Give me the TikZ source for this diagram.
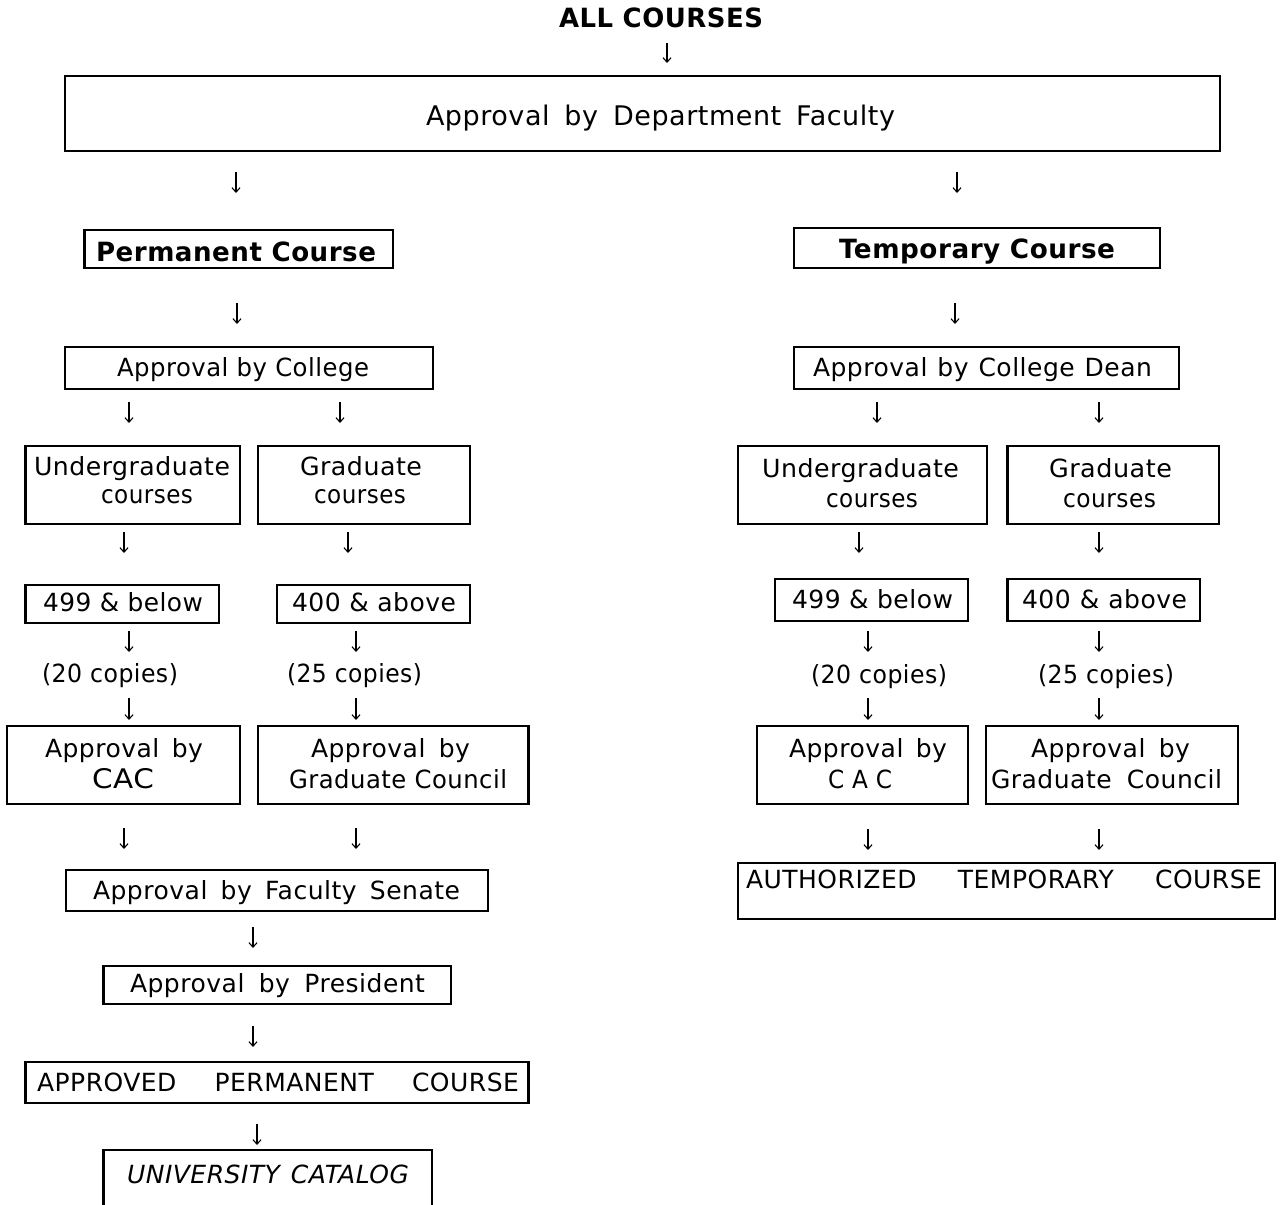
\documentclass[tikz,border=0pt]{standalone}
\usepackage{fontspec}
\setmainfont[LetterSpace=2]{DejaVu Sans}
\usetikzlibrary{arrows.meta}
\newsavebox\fitbox
% multi-word text: stretch word gaps to width, shrink horizontally if too wide
\newcommand\fitw[2]{\sbox\fitbox{#2}\ifdim\wd\fitbox>#1\relax\pgfmathsetmacro\fitr{#1/\wd\fitbox}\scalebox{\fitr}[1]{\usebox\fitbox}\else\makebox[#1][s]{#2}\fi}
% single word: scale horizontally to width
\newcommand\fits[2]{\sbox\fitbox{#2}\pgfmathsetmacro\fitr{#1/\wd\fitbox}\scalebox{\fitr}[1]{\usebox\fitbox}}
\tikzset{
  box/.style={draw=black, line width=2.6pt, inner sep=0pt, outer sep=0pt},
  txt/.style={inner sep=0pt, outer sep=0pt, anchor=base west, font=\fontsize{25}{29}\selectfont},
  bigtxt/.style={txt, font=\fontsize{27}{31}\selectfont},
  boldtxt/.style={txt, font=\bfseries\fontsize{26.5}{30}\selectfont},
  arr/.style={line width=1.1pt, -{Straight Barb[length=4.5pt,width=8pt,line width=1.1pt]}}
}
\begin{document}
\begin{tikzpicture}[x=1pt,y=-1pt]
\useasboundingbox (0,0) rectangle (1280,1205);
\clip (0,0) rectangle (1280,1205);
\fill[white] (0,0) rectangle (1280,1205);

% ---------- boxes ----------
\node[box, minimum width=1155pt, minimum height=75pt] (dept) at (642.5,113.5) {};
\node[box, minimum width=308.5pt, minimum height=38pt] (perm) at (238.75,249) {};
\node[box, minimum width=366pt, minimum height=40pt] (temp) at (977,248) {};
\node[box, minimum width=368pt, minimum height=42pt] (col) at (249,368) {};
\node[box, minimum width=385pt, minimum height=42pt] (dean) at (986.5,368) {};
\node[box, minimum width=214.3pt, minimum height=78pt] (ugL) at (132.85,485) {};
\node[box, minimum width=212pt, minimum height=78pt] (grL) at (364,485) {};
\node[box, minimum width=249pt, minimum height=78pt] (ugR) at (862.5,485) {};
\node[box, minimum width=211.5pt, minimum height=78pt] (grR) at (1113.25,485) {};
\node[box, minimum width=193.3pt, minimum height=38pt] (lowL) at (122.35,604) {};
\node[box, minimum width=193pt, minimum height=38pt] (highL) at (373.5,604) {};
\node[box, minimum width=193pt, minimum height=42pt] (lowR) at (871.5,600) {};
\node[box, minimum width=192.5pt, minimum height=42pt] (highR) at (1103.75,600) {};
\node[box, minimum width=233pt, minimum height=78pt] (cacL) at (123.5,765) {};
\node[box, minimum width=270.6pt, minimum height=78pt] (gcL) at (393.3,765) {};
\node[box, minimum width=211pt, minimum height=78pt] (cacR) at (862.5,765) {};
\node[box, minimum width=252pt, minimum height=78pt] (gcR) at (1112,765) {};
\node[box, minimum width=422pt, minimum height=41pt] (sen) at (277,890.5) {};
\node[box, minimum width=347.4pt, minimum height=38pt] (pres) at (277.3,985) {};
\node[box, minimum width=502.9pt, minimum height=41pt] (appr) at (277.15,1082.5) {};
\node[box, minimum width=328.4pt, minimum height=90pt] (univ) at (267.8,1195) {};
\node[box, minimum width=537pt, minimum height=56pt] (auth) at (1006.5,891) {};

% ---------- texts ----------
\node[boldtxt] (tall) at (559,27) {\fitw{204pt}{ALL COURSES}};
\node[bigtxt] (tdept) at (426,125) {\fitw{469pt}{Approval by Department Faculty}};
\node[boldtxt] (tperm) at (96,261) {\fitw{280pt}{Permanent Course}};
\node[boldtxt] (ttemp) at (839,258) {\fitw{276pt}{Temporary Course}};
\node[txt] (tcol) at (117,376) {\fitw{252pt}{Approval by College}};
\node[txt] (tdean) at (813,376) {\fitw{339pt}{Approval by College Dean}};

\node[txt] (tugL1) at (34,475) {\fits{196pt}{Undergraduate}};
\node[txt] (tugL2) at (101,503) {\fits{92pt}{courses}};
\node[txt] (tgrL1) at (300,475) {\fits{122pt}{Graduate}};
\node[txt] (tgrL2) at (314,503) {\fits{92pt}{courses}};
\node[txt] (tugR1) at (762,477) {\fits{197pt}{Undergraduate}};
\node[txt] (tugR2) at (826,507) {\fits{92pt}{courses}};
\node[txt] (tgrR1) at (1049,477) {\fits{123pt}{Graduate}};
\node[txt] (tgrR2) at (1063,507) {\fits{93pt}{courses}};

\node[txt] (tlowL) at (43,611) {\fitw{160pt}{499 \& below}};
\node[txt] (thighL) at (292,611) {\fitw{164pt}{400 \& above}};
\node[txt] (tlowR) at (792,608) {\fitw{161pt}{499 \& below}};
\node[txt] (thighR) at (1022,608) {\fitw{165pt}{400 \& above}};

\node[txt] (tcpL1) at (42,682) {\fitw{136pt}{(20 copies)}};
\node[txt] (tcpL2) at (287,682) {\fitw{135pt}{(25 copies)}};
\node[txt] (tcpR1) at (811,683) {\fitw{136pt}{(20 copies)}};
\node[txt] (tcpR2) at (1038,683) {\fitw{136pt}{(25 copies)}};

\node[txt] (tcacL1) at (45,757) {\fitw{158pt}{Approval by}};
\node[bigtxt] (tcacL2) at (92,788) {\fits{62pt}{CAC}};
\node[txt] (tgcL1) at (311,757) {\fitw{159pt}{Approval by}};
\node[txt] (tgcL2) at (289,788) {\fitw{218pt}{Graduate Council}};
\node[txt] (tcacR1) at (789,757) {\fitw{158pt}{Approval by}};
\node[txt] (tcacR2) at (828,788) {\fitw{64pt}{C A C}};
\node[txt] (tgcR1) at (1031,757) {\fitw{159pt}{Approval by}};
\node[txt] (tgcR2) at (991,788) {\fitw{231pt}{Graduate Council}};

\node[txt] (tsen) at (93,899) {\fitw{367pt}{Approval by Faculty Senate}};
\node[txt] (tpres) at (130,992) {\fitw{295pt}{Approval by President}};
\node[txt] (tappr) at (37,1091) {\fitw{482pt}{APPROVED PERMANENT COURSE}};
\node[txt] (tuniv) at (127,1183) {\fitw{282pt}{\itshape UNIVERSITY CATALOG}};
\node[txt] (tauth) at (746,888) {\fitw{516pt}{AUTHORIZED TEMPORARY COURSE}};

% ---------- arrow end points ----------
\foreach \n/\x/\ya/\yb in {
  a0/667/43/63,
  a1/236/172/193, a2/957/172/193,
  a3/237/303/324, a4/955/303/324,
  a5/129/402/423, a6/340/402/423, a7/877/402/423, a8/1099/402/423,
  a9/124/532/553, a10/348/532/553, a11/859/532/553, a12/1099/532/553,
  a13/129/631/652, a14/356/631/652, a15/868/631/652, a16/1099/631/652,
  a17/129/698/720, a18/356/698/720, a19/868/698/720, a20/1099/698/720,
  a21/124/828/849, a22/356/828/849, a23/868/829/850, a24/1099/829/850,
  a25/253/927/948, a26/253/1026/1047, a27/257/1124/1145}
{
  \coordinate (\n s) at (\x,\ya);
  \coordinate (\n e) at (\x,\yb);
  \draw[arr] (\n s) -- (\n e);
}
\end{tikzpicture}
\end{document}
